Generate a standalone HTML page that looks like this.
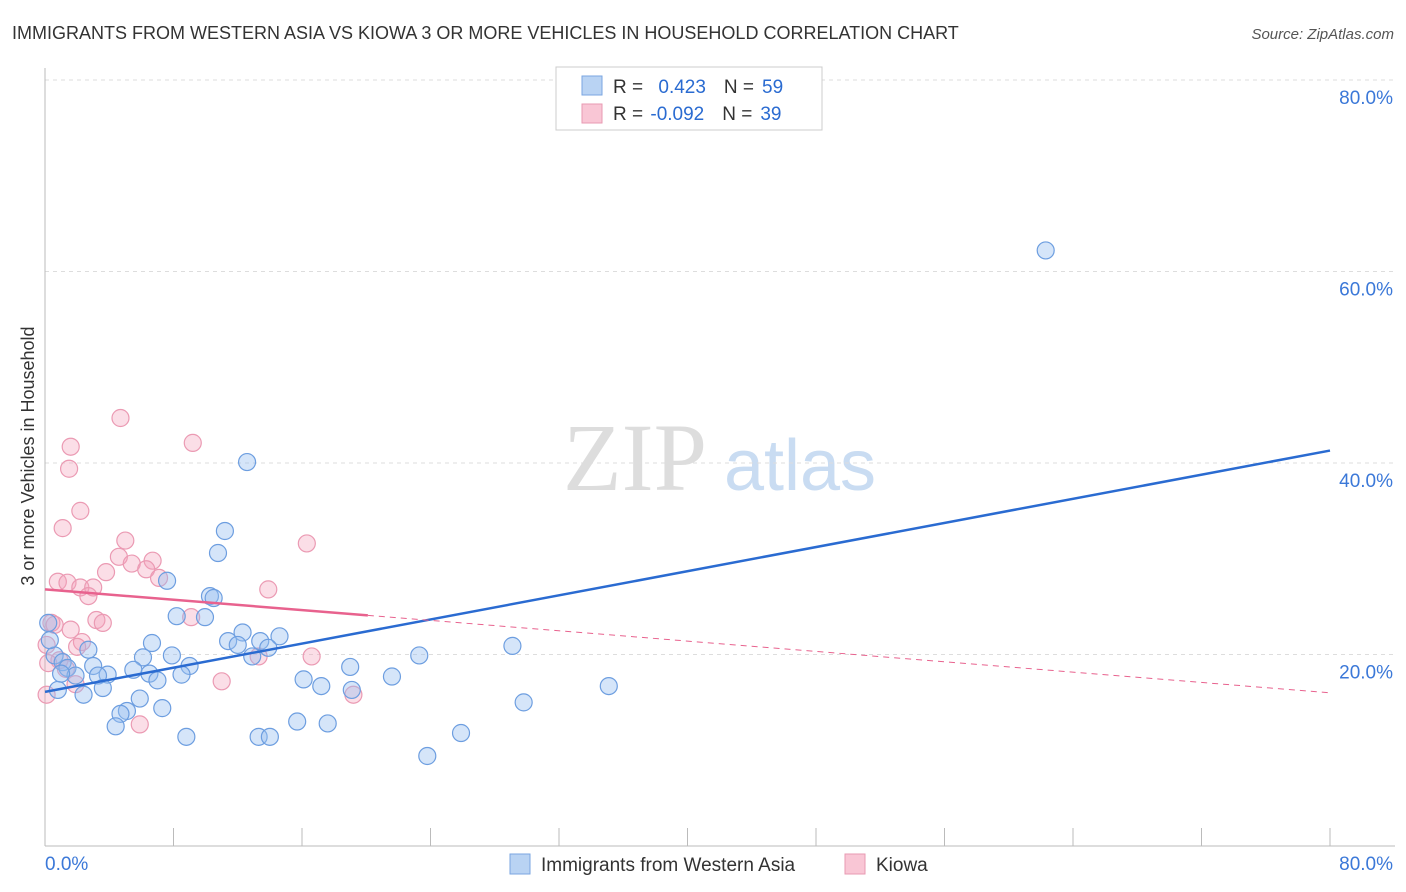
<!DOCTYPE html>
<html><head><meta charset="utf-8"><style>
body{margin:0;background:#fff;font-family:"Liberation Sans",sans-serif;}
svg{display:block}
</style></head><body>
<svg width="1406" height="892" xmlns="http://www.w3.org/2000/svg">
<text x="12" y="39" font-size="18" fill="#333">IMMIGRANTS FROM WESTERN ASIA VS KIOWA 3 OR MORE VEHICLES IN HOUSEHOLD CORRELATION CHART</text>
<text x="1394" y="39" font-size="15" fill="#555" font-style="italic" text-anchor="end">Source: ZipAtlas.com</text>
<g>
<text x="635" y="490" font-size="96" fill="#ddd" font-family="Liberation Serif,serif" text-anchor="middle">ZIP</text>
<text x="800" y="490" font-size="72" fill="#c9dcf2" text-anchor="middle">atlas</text>
</g>
<g id="grid"></g>
<g id="axes"></g>
<g id="marks"></g>
<text transform="translate(34,456) rotate(-90)" font-size="18" fill="#333" text-anchor="middle">3 or more Vehicles in Household</text>
<g>
<rect x="556" y="67" width="266" height="63" fill="#fff" stroke="#ccc"/>
<rect x="582" y="76" width="20" height="19" fill="#b9d3f3" stroke="#7aa6e0"/>
<rect x="582" y="104" width="20" height="19" fill="#f9c6d5" stroke="#e89ab2"/>
<text x="613" y="93" font-size="19" fill="#333">R = <tspan fill="#2a6bd1" dx="10">0.423</tspan><tspan fill="#333" dx="18">N =</tspan><tspan fill="#2a6bd1" dx="8">59</tspan></text>
<text x="613" y="120" font-size="19" fill="#333">R = <tspan fill="#2a6bd1" dx="2">-0.092</tspan><tspan fill="#333" dx="18">N =</tspan><tspan fill="#2a6bd1" dx="8">39</tspan></text>
</g>
<g>
<rect x="510" y="854" width="20" height="20" fill="#b9d3f3" stroke="#7aa6e0"/>
<text x="541" y="871" font-size="19" fill="#333">Immigrants from Western Asia</text>
<rect x="845" y="854" width="20" height="20" fill="#f9c6d5" stroke="#e89ab2"/>
<text x="876" y="871" font-size="19" fill="#333">Kiowa</text>
</g>
</svg>
<script>
const blueX=[12.58,11.2,10.77,7.6,10.27,10.5,8.2,9.96,12.3,6.66,11.4,13.4,14.6,12.0,13.9,12.9,6.1,7.9,2.7,0.6,1.1,3.0,1.4,5.5,9.0,8.5,3.9,6.5,3.3,7.0,1.9,23.3,29.1,19.0,21.6,16.1,17.2,19.1,35.1,3.6,0.8,2.4,5.9,29.8,7.3,5.1,4.7,15.7,17.6,4.4,8.8,13.3,14.0,25.9,23.8,62.3,0.3,0.2,1.0];
const blueY=[40.1,32.9,30.6,27.7,26.1,25.9,24.0,23.9,22.3,21.2,21.4,21.4,21.9,21.0,20.7,19.8,19.7,19.9,20.5,19.9,19.2,18.8,18.6,18.4,18.8,17.9,17.9,18.0,17.8,17.3,17.8,19.9,20.9,18.7,17.7,17.4,16.7,16.3,16.7,16.5,16.3,15.8,15.4,15.0,14.4,14.1,13.8,13.0,12.8,12.5,11.4,11.4,11.4,11.8,9.4,62.2,21.5,23.3,18.0];
const pinkX=[4.7,9.2,1.6,1.5,2.2,1.1,5.0,16.3,4.6,6.7,5.4,6.3,3.8,7.1,0.8,1.4,2.2,3.0,2.7,13.9,9.1,3.2,3.6,0.4,0.6,1.6,2.3,2.0,13.3,16.6,0.9,0.2,1.3,11.0,1.9,19.2,0.1,5.9,0.1];
const pinkY=[44.7,42.1,41.7,39.4,35.0,33.2,31.9,31.6,30.2,29.8,29.5,28.9,28.6,28.0,27.6,27.5,27.0,27.0,26.1,26.8,23.9,23.6,23.3,23.3,23.1,22.6,21.3,20.8,19.8,19.8,19.4,19.1,18.5,17.2,16.9,15.8,15.8,12.7,21.0];
const blueFit=[16.1,41.3];   // value at x=0 and x=80
const pinkFit=[26.8,16.0];
const pinkSolidEnd=20.1;
const yTicks=[20,40,60,80];
const xTickLabels=["0.0%","80.0%"];
const NS="http://www.w3.org/2000/svg";
const X=v=>45+v/80*1285, Y=v=>846-v/20*191.5;
function mk(t,a,p){const e=document.createElementNS(NS,t);for(const k in a)e.setAttribute(k,a[k]);p.appendChild(e);return e;}
const grid=document.getElementById('grid'),axes=document.getElementById('axes'),marks=document.getElementById('marks');
yTicks.forEach(t=>{
 const l=mk('line',{x1:45,x2:1395,y1:Y(t),y2:Y(t),stroke:'#ddd','stroke-dasharray':'4,4'},grid);
 
 
 const tx=mk('text',{x:1393,y:Y(t)+24,'font-size':19,fill:'#3b78d8','text-anchor':'end'},axes);
 tx.textContent=t.toFixed(1)+'%';
 
 
});
const ax=mk('line',{x1:45,x2:45,y1:68,y2:846,stroke:'#bbb'},axes);


const bx=mk('line',{x1:45,x2:1395,y1:846,y2:846,stroke:'#bbb'},axes);


for(let i=0;i<=10;i++){const t=mk('line',{x1:X(i*8),x2:X(i*8),y1:828,y2:846,stroke:'#bbb'},axes);
 
 }
const xl0=mk('text',{x:45,y:870,'font-size':19,fill:'#3b78d8'},axes);xl0.textContent=xTickLabels[0];


const xl1=mk('text',{x:1393,y:870,'font-size':19,fill:'#3b78d8','text-anchor':'end'},axes);xl1.textContent=xTickLabels[1];


pinkX.forEach((v,i)=>{const c=mk('circle',{cx:X(v),cy:Y(pinkY[i]),r:8.5,fill:'rgba(244,160,186,0.35)',stroke:'#eb9ab3','stroke-width':1.2},marks);
 
 });
blueX.forEach((v,i)=>{const c=mk('circle',{cx:X(v),cy:Y(blueY[i]),r:8.5,fill:'rgba(150,190,240,0.4)',stroke:'#6d9ee0','stroke-width':1.2},marks);
 
 });
const pAt=x=>pinkFit[0]+(pinkFit[1]-pinkFit[0])*x/80;
const bl=mk('line',{x1:X(0),y1:Y(blueFit[0]),x2:X(80),y2:Y(blueFit[1]),stroke:'#2a6bd1','stroke-width':2.5},marks);


const pl=mk('line',{x1:X(0),y1:Y(pinkFit[0]),x2:X(pinkSolidEnd),y2:Y(pAt(pinkSolidEnd)),stroke:'#e8628e','stroke-width':2.5},marks);


const pd=mk('line',{x1:X(pinkSolidEnd),y1:Y(pAt(pinkSolidEnd)),x2:X(80),y2:Y(pinkFit[1]),stroke:'#e8628e','stroke-width':1,'stroke-dasharray':'6,5'},marks);


</script>
</body></html>
